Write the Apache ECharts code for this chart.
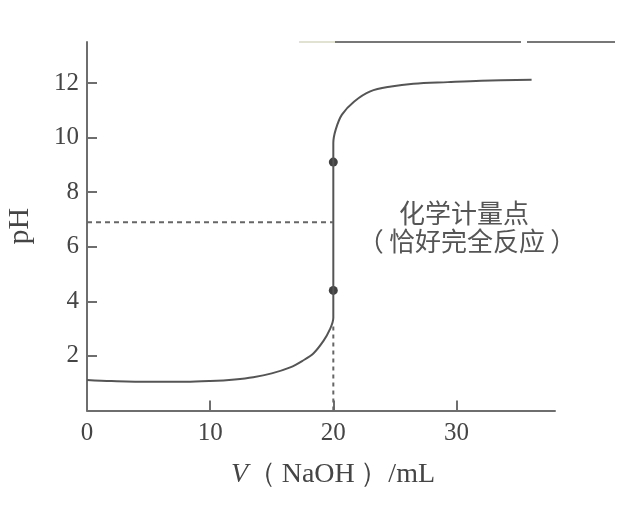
<!DOCTYPE html>
<html><head><meta charset="utf-8">
<script src="https://cdn.jsdelivr.net/npm/echarts@6/dist/echarts.min.js"></script>
<style>html,body{margin:0;padding:0;background:#fff}#c{width:629px;height:519px}</style>
</head><body><div id="c"></div>
<script>
// ---- data ----
const curveX = [0, 2, 5, 8, 10, 12, 13.5, 15, 16.5, 17.5, 18.4, 19.2, 19.7, 20, 20, 20, 20, 20.2, 20.7, 21.7, 23, 24.7, 26.5, 29.3, 32, 36.1];
const curveY = [1.12, 1.08, 1.05, 1.05, 1.08, 1.14, 1.22, 1.36, 1.58, 1.82, 2.1, 2.55, 2.95, 3.4, 4.4, 9.1, 9.8, 10.3, 10.84, 11.32, 11.69, 11.87, 11.97, 12.03, 12.08, 12.12];
const dotX = [20, 20];
const dotY = [4.4, 9.1];
const eqPH = 6.9;          // horizontal dashed guide
const eqV = 20;            // equivalence volume
const footPH = 3.1;        // top of vertical dashed guide
const xTickVals = [10, 20, 30];
const xLabelVals = [0, 10, 20, 30];
const yTickVals = [2, 4, 6, 8, 10, 12];
const yLabelVals = [2, 4, 6, 8, 10, 12];
const annot1 = '化学计量点';
const annot2 = '（\u2009恰好完全反应\u2009）';

const axisColor = '#6e6e6e';
const textColor = '#454545';
const serif = '"Liberation Serif","DejaVu Serif",serif';
const cjk = '"Noto Sans CJK SC","Noto Sans",sans-serif';

const chart = echarts.init(document.getElementById('c'));
chart.setOption({
  animation: false,
  backgroundColor: '#fff',
  grid: {left: 87, right: 74, top: 42, bottom: 108.5, containLabel: false, outerBoundsMode: 'none'},
  xAxis: {
    type: 'value', min: 0, max: 38, interval: 10,
    name: '{i|V}（\u2009NaOH\u2009）/mL',
    nameLocation: 'middle', nameGap: 50,
    nameTextStyle: {color: textColor, fontFamily: serif, fontSize: 28, padding: [0, 0, 0, 24],
      rich: {i: {fontStyle: 'italic', fontFamily: serif, fontSize: 28, color: textColor}}},
    axisLine: {show: true, lineStyle: {color: axisColor, width: 2}},
    axisTick: {show: true, inside: true, length: 10, customValues: xTickVals, lineStyle: {color: axisColor, width: 2}},
    axisLabel: {customValues: xLabelVals, color: textColor, fontFamily: serif, fontSize: 25, margin: 10},
    splitLine: {show: false}
  },
  yAxis: {
    type: 'value', min: 0, max: 13.5, interval: 2,
    name: 'pH', nameLocation: 'middle', nameRotate: 90, nameGap: 52,
    nameTextStyle: {color: textColor, fontFamily: serif, fontSize: 30},
    axisLine: {show: true, lineStyle: {color: axisColor, width: 2}},
    axisTick: {show: true, inside: true, length: 10, customValues: yTickVals, lineStyle: {color: axisColor, width: 2}},
    axisLabel: {customValues: yLabelVals, color: textColor, fontFamily: serif, fontSize: 25, margin: 8},
    splitLine: {show: false}
  },
  series: [
    {
      type: 'line', name: 'curve', smooth: 0.35, symbol: 'none',
      data: curveX.map((x, i) => [x, curveY[i]]),
      lineStyle: {color: '#555', width: 2}
    },
    {
      type: 'line', name: 'hguide', symbol: 'none',
      data: [[0, eqPH], [eqV, eqPH]],
      lineStyle: {color: '#666', width: 2, type: [5, 4]}
    },
    {
      type: 'line', name: 'vguide', symbol: 'none',
      data: [[eqV, 0], [eqV, footPH]],
      lineStyle: {color: '#666', width: 2, type: [4, 4]}
    },
    {
      type: 'scatter', name: 'dots', symbol: 'circle', symbolSize: 9,
      data: dotX.map((x, i) => [x, dotY[i]]),
      itemStyle: {color: '#111'}
    }
  ],
  graphic: [
    {type: 'line', shape: {x1: 299, y1: 42, x2: 335, y2: 42}, style: {stroke: '#e2e2d2', lineWidth: 2}},
    {type: 'line', shape: {x1: 335, y1: 42, x2: 521, y2: 42}, style: {stroke: '#777', lineWidth: 2}},
    {type: 'line', shape: {x1: 527, y1: 42, x2: 615, y2: 42}, style: {stroke: '#777', lineWidth: 2}},
    {type: 'text', x: 464, y: 213, style: {text: annot1, font: '26px ' + cjk, fill: '#555', textAlign: 'center', textVerticalAlign: 'middle'}},
    {type: 'text', x: 467, y: 241, style: {text: annot2, font: '26px ' + cjk, fill: '#555', textAlign: 'center', textVerticalAlign: 'middle'}}
  ]
});
</script>
</body></html>
